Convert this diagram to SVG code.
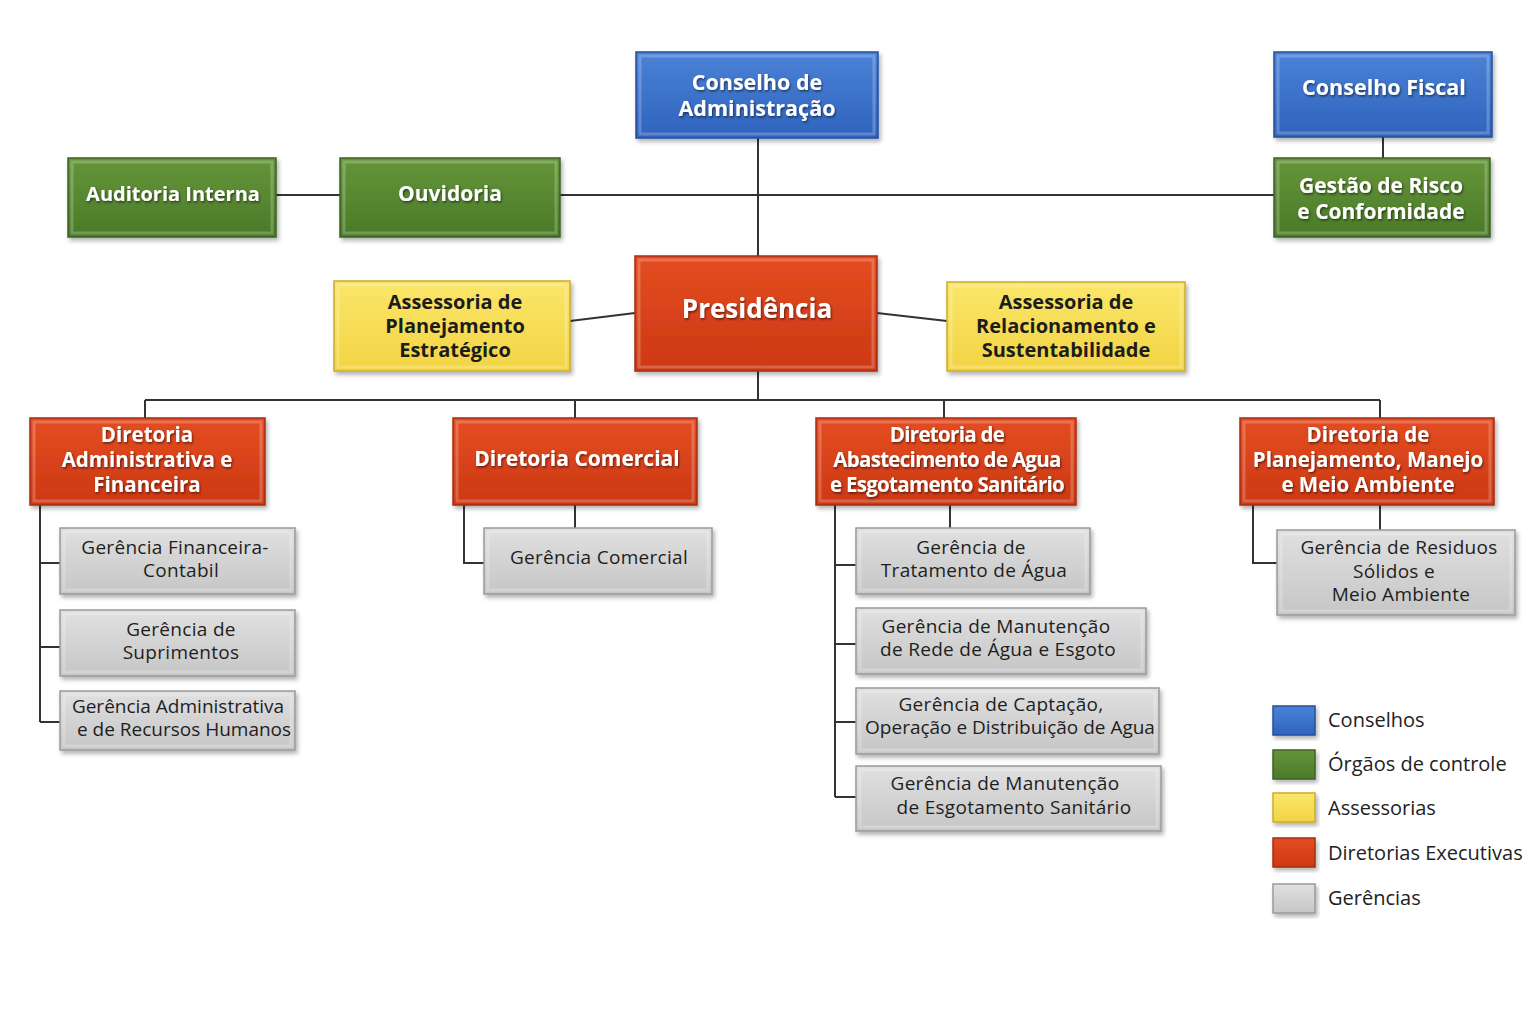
<svg xmlns="http://www.w3.org/2000/svg" width="1536" height="1024" viewBox="0 0 1536 1024">
<defs>
<linearGradient id="gBlue" x1="0" y1="0" x2="0" y2="1"><stop offset="0" stop-color="#4a82d6"/><stop offset="1" stop-color="#2f63bd"/></linearGradient>
<linearGradient id="gGreen" x1="0" y1="0" x2="0" y2="1"><stop offset="0" stop-color="#65953a"/><stop offset="1" stop-color="#4a7a28"/></linearGradient>
<linearGradient id="gYellow" x1="0" y1="0" x2="0" y2="1"><stop offset="0" stop-color="#fbe66a"/><stop offset="1" stop-color="#f2d443"/></linearGradient>
<linearGradient id="gRed" x1="0" y1="0" x2="0" y2="1"><stop offset="0" stop-color="#e44d22"/><stop offset="1" stop-color="#cc3814"/></linearGradient>
<linearGradient id="gGray" x1="0" y1="0" x2="0" y2="1"><stop offset="0" stop-color="#e0e0e0"/><stop offset="1" stop-color="#c6c6c6"/></linearGradient>
<filter id="sh" x="-10%" y="-10%" width="120%" height="130%"><feDropShadow dx="2" dy="3" stdDeviation="2" flood-color="#000" flood-opacity="0.3"/></filter>
<filter id="ts" x="-10%" y="-20%" width="120%" height="140%"><feDropShadow dx="1" dy="1.5" stdDeviation="1" flood-color="#000" flood-opacity="0.55"/></filter>
</defs>
<style>
.blue{fill:url(#gBlue);stroke:#24509c;stroke-width:1.5}
.green{fill:url(#gGreen);stroke:#3b6320;stroke-width:1.5}
.yellow{fill:url(#gYellow);stroke:#c9ad2c;stroke-width:1.5}
.red{fill:url(#gRed);stroke:#a82d10;stroke-width:1.5}
.gray{fill:url(#gGray);stroke:#9a9a9a;stroke-width:1.5}
.box{filter:url(#sh)}
.bev{fill:none;stroke:#ffffff;stroke-opacity:0.22;stroke-width:3}
.wt{font-family:"Open Sans","Noto Sans",sans-serif;font-weight:700;fill:#fff;text-anchor:middle;filter:url(#ts)}
.dt{font-family:"Open Sans","Noto Sans",sans-serif;font-weight:700;fill:#1c1c1c;text-anchor:middle;font-size:20px}
.gt{font-family:"Open Sans","Noto Sans",sans-serif;fill:#1e1e1e;text-anchor:middle;font-size:19px;letter-spacing:0.3px}
.gt.tight{letter-spacing:0}
.lt{font-family:"Open Sans","Noto Sans",sans-serif;fill:#222;font-size:20px}
.ln{fill:none;stroke:#333;stroke-width:2}
</style>
<rect width="1536" height="1024" fill="#ffffff"/>

<g id="connectors">
<path class="ln" d="M758 138V256"/>
<path class="ln" d="M560 195H1274"/>
<path class="ln" d="M276 195H340"/>
<path class="ln" d="M1383 137V158"/>
<path class="ln" d="M570 321L635 313"/>
<path class="ln" d="M877 313L947 321"/>
<path class="ln" d="M758 371V400M145 400H1380M145 400V418M575 400V418M944 400V418M1380 400V418"/>
<path class="ln" d="M40 505V722M40 563H60M40 647H60M40 722H60"/>
<path class="ln" d="M464 505V563H484M575 505V528"/>
<path class="ln" d="M835 505V797M835 565H856M835 644H856M835 722H856M835 797H856M950 505V528"/>
<path class="ln" d="M1253 505V563H1277M1380 505V530"/>
</g>

<g id="conselho-administracao">
<rect class="box blue" x="636" y="52" width="242" height="86"/><rect class="bev" x="640" y="56" width="234" height="78"/>
<text class="wt" font-size="21.5" x="757" y="89.5">Conselho de</text>
<text class="wt" font-size="21.5" x="757" y="115.5">Administração</text>
</g>
<g id="conselho-fiscal">
<rect class="box blue" x="1274" y="52" width="218" height="85"/><rect class="bev" x="1278" y="56" width="210" height="77"/>
<text class="wt" font-size="21.5" x="1384" y="95">Conselho Fiscal</text>
</g>
<g id="gestao-risco">
<rect class="box green" x="1274" y="158" width="216" height="79"/><rect class="bev" x="1278" y="162" width="208" height="71"/>
<text class="wt" font-size="21" x="1381" y="193">Gestão de Risco</text>
<text class="wt" font-size="21" x="1381" y="219">e Conformidade</text>
</g>
<g id="auditoria-interna">
<rect class="box green" x="68" y="158" width="208" height="79"/><rect class="bev" x="72" y="162" width="200" height="71"/>
<text class="wt" font-size="20" x="173" y="201">Auditoria Interna</text>
</g>
<g id="ouvidoria">
<rect class="box green" x="340" y="158" width="220" height="79"/><rect class="bev" x="344" y="162" width="212" height="71"/>
<text class="wt" font-size="21" x="450" y="201">Ouvidoria</text>
</g>
<g id="presidencia">
<rect class="box red" x="635" y="256" width="242" height="115"/><rect class="bev" x="639" y="260" width="234" height="107"/>
<text class="wt" font-size="26" x="757" y="318">Presidência</text>
</g>
<g id="assessoria-planejamento">
<rect class="box yellow" x="334" y="281" width="236" height="90"/><rect class="bev" x="338" y="285" width="228" height="82"/>
<text class="dt" x="455" y="309">Assessoria de</text>
<text class="dt" x="455" y="333">Planejamento</text>
<text class="dt" x="455" y="357">Estratégico</text>
</g>
<g id="assessoria-relacionamento">
<rect class="box yellow" x="947" y="282" width="238" height="89"/><rect class="bev" x="951" y="286" width="230" height="81"/>
<text class="dt" x="1066" y="309">Assessoria de</text>
<text class="dt" x="1066" y="333">Relacionamento e</text>
<text class="dt" x="1066" y="357">Sustentabilidade</text>
</g>

<g id="diretoria-adm-fin">
<rect class="box red" x="30" y="418" width="235" height="87"/><rect class="bev" x="34" y="422" width="227" height="79"/>
<text class="wt" font-size="20.5" x="147" y="442">Diretoria</text>
<text class="wt" font-size="20.5" x="147" y="467">Administrativa e</text>
<text class="wt" font-size="20.5" x="147" y="492">Financeira</text>
</g>
<g id="diretoria-comercial">
<rect class="box red" x="453" y="418" width="244" height="87"/><rect class="bev" x="457" y="422" width="236" height="79"/>
<text class="wt" font-size="21" x="577" y="466">Diretoria Comercial</text>
</g>
<g id="diretoria-abastecimento">
<rect class="box red" x="816" y="418" width="260" height="87"/><rect class="bev" x="820" y="422" width="252" height="79"/>
<text class="wt" font-size="20.5" letter-spacing="-0.7" x="947" y="442">Diretoria de</text>
<text class="wt" font-size="20.5" letter-spacing="-0.7" x="947" y="467">Abastecimento de Agua</text>
<text class="wt" font-size="20.5" letter-spacing="-0.7" x="947" y="492">e Esgotamento Sanitário</text>
</g>
<g id="diretoria-planejamento">
<rect class="box red" x="1240" y="418" width="254" height="87"/><rect class="bev" x="1244" y="422" width="246" height="79"/>
<text class="wt" font-size="20.5" x="1368" y="442">Diretoria de</text>
<text class="wt" font-size="20.5" x="1368" y="467">Planejamento, Manejo</text>
<text class="wt" font-size="20.5" x="1368" y="492">e Meio Ambiente</text>
</g>

<g id="ger-financeira">
<rect class="box gray" x="60" y="528" width="235" height="66"/><rect class="bev" x="64" y="532" width="227" height="58"/>
<text class="gt" x="175" y="553.5">Gerência Financeira-</text>
<text class="gt" x="181" y="577">Contabil</text>
</g>
<g id="ger-suprimentos">
<rect class="box gray" x="60" y="610" width="235" height="66"/><rect class="bev" x="64" y="614" width="227" height="58"/>
<text class="gt" x="181" y="635.5">Gerência de</text>
<text class="gt" x="181" y="659">Suprimentos</text>
</g>
<g id="ger-adm-rh">
<rect class="box gray" x="60" y="691" width="235" height="59"/><rect class="bev" x="64" y="695" width="227" height="51"/>
<text class="gt tight" x="178" y="712.5">Gerência Administrativa</text>
<text class="gt tight" x="184" y="736">e de Recursos Humanos</text>
</g>
<g id="ger-comercial">
<rect class="box gray" x="484" y="528" width="228" height="66"/><rect class="bev" x="488" y="532" width="220" height="58"/>
<text class="gt" x="599" y="564">Gerência Comercial</text>
</g>
<g id="ger-tratamento">
<rect class="box gray" x="856" y="528" width="234" height="66"/><rect class="bev" x="860" y="532" width="226" height="58"/>
<text class="gt" x="971" y="553.5">Gerência de</text>
<text class="gt" x="974" y="577">Tratamento de Água</text>
</g>
<g id="ger-manut-rede">
<rect class="box gray" x="856" y="608" width="290" height="66"/><rect class="bev" x="860" y="612" width="282" height="58"/>
<text class="gt" x="996" y="632.5">Gerência de Manutenção</text>
<text class="gt" x="998" y="656">de Rede de Água e Esgoto</text>
</g>
<g id="ger-captacao">
<rect class="box gray" x="856" y="688" width="303" height="66"/><rect class="bev" x="860" y="692" width="295" height="58"/>
<text class="gt" x="1001" y="710.5">Gerência de Captação,</text>
<text class="gt tight" x="1010" y="734">Operação e Distribuição de Agua</text>
</g>
<g id="ger-manut-esgoto">
<rect class="box gray" x="856" y="766" width="305" height="65"/><rect class="bev" x="860" y="770" width="297" height="57"/>
<text class="gt" x="1005" y="790">Gerência de Manutenção</text>
<text class="gt" x="1014" y="814">de Esgotamento Sanitário</text>
</g>
<g id="ger-residuos">
<rect class="box gray" x="1277" y="530" width="238" height="85"/><rect class="bev" x="1281" y="534" width="230" height="77"/>
<text class="gt" x="1399" y="554">Gerência de Residuos</text>
<text class="gt" x="1394" y="577.5">Sólidos e</text>
<text class="gt" x="1401" y="601">Meio Ambiente</text>
</g>

<g id="legend">
<rect class="box blue" x="1273" y="706" width="42" height="29"/>
<text class="lt" x="1328" y="727">Conselhos</text>
<rect class="box green" x="1273" y="750" width="42" height="29"/>
<text class="lt" x="1328" y="771">Órgãos de controle</text>
<rect class="box yellow" x="1273" y="793" width="42" height="29"/>
<text class="lt" x="1328" y="815">Assessorias</text>
<rect class="box red" x="1273" y="838" width="42" height="29"/>
<text class="lt" x="1328" y="860">Diretorias Executivas</text>
<rect class="box gray" x="1273" y="884" width="42" height="29"/>
<text class="lt" x="1328" y="905">Gerências</text>
</g>
</svg>
